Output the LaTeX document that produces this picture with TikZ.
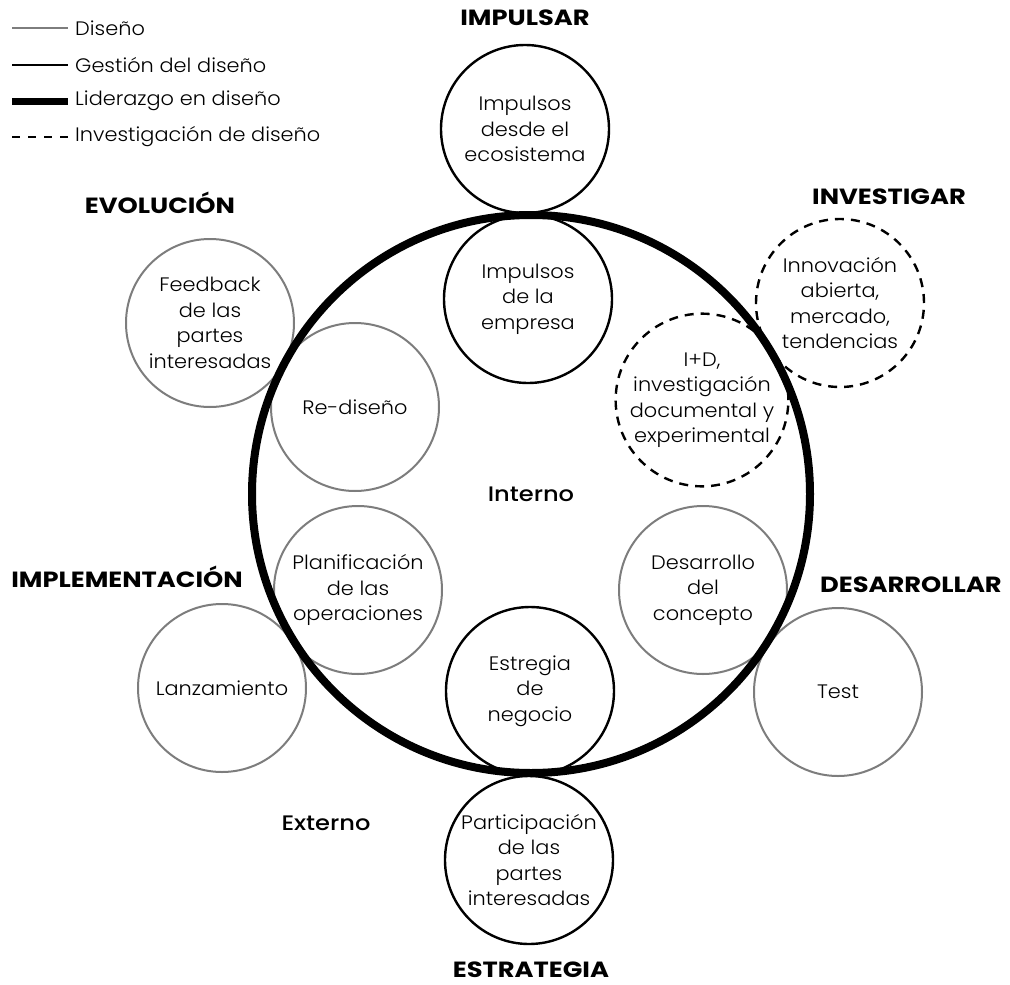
\documentclass[tikz,border=0pt]{standalone}
\usepackage{fontspec}
\setmainfont{Poppins}
% weights of the same family, with a safe fallback
\IfFontExistsTF{Poppins Light}{\newfontfamily\bodyfam{Poppins Light}[FakeStretch=1.07]}{\newfontfamily\bodyfam{Poppins}[FakeStretch=1.07]}
\IfFontExistsTF{Poppins Medium}{\newfontfamily\midfam{Poppins Medium}[FakeStretch=1.15]}{\newfontfamily\midfam{Poppins}[FakeStretch=1.15]}
\IfFontExistsTF{Poppins Bold}{\newfontfamily\headfam{Poppins Bold}[FakeStretch=1.17]}{\newfontfamily\headfam{Poppins}[UprightFont=*-Bold,FakeStretch=1.17]}
\newcommand{\bodyfont}{\bodyfam\fontsize{19.5}{25.5}\selectfont}
\newcommand{\midfont}{\midfam\fontsize{21}{24}\selectfont}
\newcommand{\headfont}{\headfam\fontsize{22}{24}\selectfont}
\definecolor{dgray}{RGB}{125,125,125}
\begin{document}
\begin{tikzpicture}[x=1pt,y=-1pt,
  every node/.style={font=\bodyfont, text=black},
  disk/.style={circle, minimum size=168pt, inner sep=0pt, align=center},
  design/.style={disk, draw=dgray, line width=2pt},
  mgmt/.style={disk, draw=black, line width=2.4pt},
  research/.style={disk, draw=black, line width=2.4pt, dash pattern=on 9pt off 7pt},
  phase/.style={font=\headfont},
  zone/.style={font=\midfont},
  legendtext/.style={anchor=west, inner sep=0pt},
]
\useasboundingbox (0,0) rectangle (1010,985);

% legend
\coordinate (la1) at (12,28);  \coordinate (lb1) at (68,28);
\coordinate (la2) at (12,65);  \coordinate (lb2) at (68,65);
\coordinate (la3) at (12,101); \coordinate (lb3) at (68,101);
\coordinate (la4) at (12,137); \coordinate (lb4) at (68,137);
\draw[dgray, line width=2pt] (la1) -- (lb1);
\draw[black, line width=2pt] (la2) -- (lb2);
\draw[black, line width=7pt] (la3) -- (lb3);
\draw[black, line width=2pt, dash pattern=on 8pt off 8pt] (la4) -- (lb4);
\node[legendtext] (lt1) at (75,28) {Diseño};
\node[legendtext] (lt2) at (75,65) {Gestión del diseño};
\node[legendtext] (lt3) at (75,101) {Liderazgo en diseño};
\node[legendtext] (lt4) at (75,137) {Investigación de diseño};

% phase headings
\node[phase] (impulsar) at (525,18) {IMPULSAR};
\node[phase] (investigar) at (889,197) {INVESTIGAR};
\node[phase] (evolucion) at (160,203) {EVOLUCIÓN};
\node[phase] (implementacion) at (127,577) {IMPLEMENTACIÓN};
\node[phase] (desarrollar) at (911,585) {DESARROLLAR};
\node[phase] (estrategiah) at (531,970) {ESTRATEGIA};
\node[zone] (externo) at (326,823) {Externo};

% activity circles
\node[mgmt] (ecosys) at (525,129) {Impulsos\\desde el\\ecosistema};
\node[mgmt] (empresa) at (528,299) {Impulsos\\de la\\empresa};
\node[research] (abierta) at (840,303) {Innovación\\abierta,\\mercado,\\tendencias};
\node[research] (imasd) at (702,400) {I+D,\\investigación\\documental y\\experimental};
\node[design] (feedback) at (210,323) {Feedback\\de las\\partes\\interesadas};
\node[design] (rediseno) at (355,407) {Re-diseño};
\node[design] (planif) at (358,590) {Planificación\\de las\\operaciones};
\node[design] (desarrollo) at (703,590) {Desarrollo\\del\\concepto};
\node[design] (lanz) at (222,688) {Lanzamiento};
\node[design] (test) at (838,692) {Test};
\node[mgmt] (negocio) at (530,691) {Estregia\\de\\negocio};
\node[mgmt] (particip) at (529,860) {Participación\\de las\\partes\\interesadas};

% design leadership ring
\node[circle, draw=black, line width=8pt, minimum size=558pt, inner sep=0pt, zone] (core) at (531,494) {Interno};
\end{tikzpicture}
\end{document}
